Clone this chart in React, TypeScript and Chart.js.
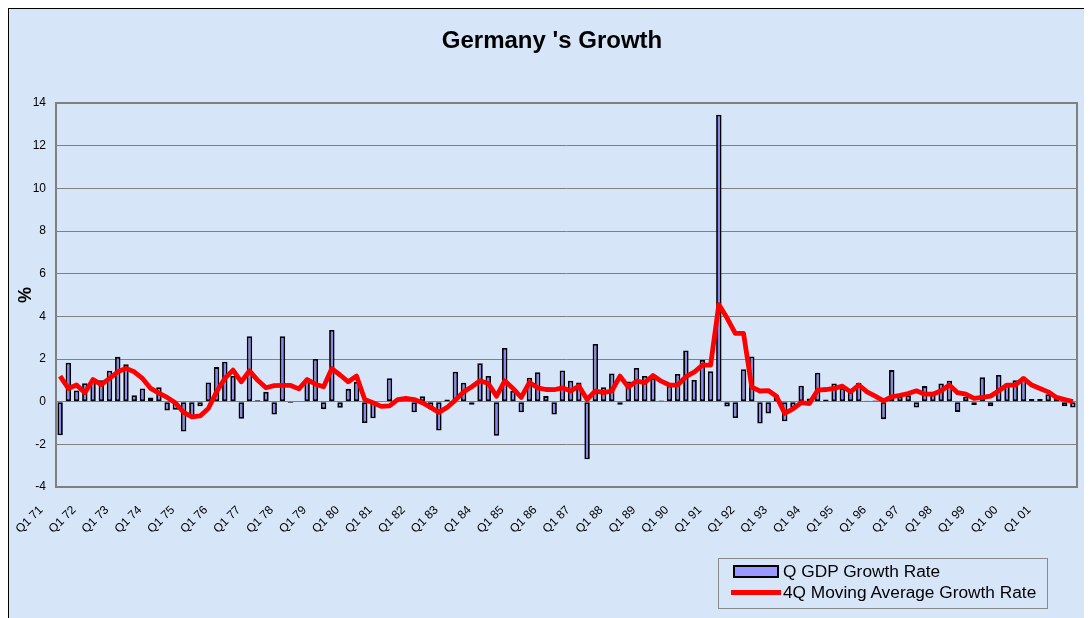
import React, { useEffect, useRef } from "react";
import { Chart, registerables } from "chart.js";

Chart.register(...registerables);

const years = ["71","72","73","74","75","76","77","78","79","80","81","82","83","84","85","86","87","88","89","90","91","92","93","94","95","96","97","98","99","00","01"];
const quarters = ["Q1", "Q2", "Q3", "Q4"];
const categories: string[] = [];
years.forEach((y) => quarters.forEach((q) => categories.push(`${q} ${y}`)));

const gdpGrowth = [
  -1.58, 1.83, 0.52, 0.86, 1.05, 1.0, 1.45, 2.1, 1.75, 0.3, 0.62, 0.2, 0.68, -0.41, -0.38, -1.4,
  -0.75, -0.22, 0.9, 1.62, 1.87, 1.2, -0.8, 3.07, 0.07, 0.46, -0.6, 3.07, -0.06, 0.0, 1.09, 2.0,
  -0.35, 3.36, -0.29, 0.6, 0.93, -1.0, -0.78, 0.0, 1.1, 0.1, 0.15, -0.5, 0.25, -0.35, -1.35, 0.1,
  1.4, 0.89, -0.15, 1.8, 1.2, -1.6, 2.52, 0.5, -0.5, 1.12, 1.38, 0.26, -0.6, 1.46, 0.98, 0.9,
  -2.7, 2.7, 0.67, 1.32, -0.14, 0.95, 1.58, 1.2, 1.1, 0.05, 0.75, 1.3, 2.4, 1.02, 1.95, 1.42,
  13.45, -0.23, -0.77, 1.52, 2.12, -1.02, -0.55, 0.3, -0.92, -0.28, 0.75, 0.15, 1.36, 0.1, 0.85, 0.62,
  0.46, 0.89, 0.04, 0.05, -0.82, 1.48, 0.23, 0.3, -0.27, 0.73, 0.46, 0.85, 0.98, -0.48, 0.23, -0.16,
  1.14, -0.21, 1.25, 0.85, 1.0, 1.17, 0.13, 0.13, 0.35, 0.2, -0.21, -0.27,
];

const movingAverage = [
  1.2, 0.62, 0.78, 0.42, 1.04, 0.8, 1.09, 1.4, 1.56, 1.4, 1.09, 0.62, 0.4, 0.2, -0.05, -0.5,
  -0.71, -0.67, -0.32, 0.46, 1.09, 1.48, 0.93, 1.45, 1.0, 0.65, 0.75, 0.76, 0.76, 0.6, 1.04, 0.82,
  0.7, 1.55, 1.25, 0.93, 1.2, 0.1, -0.05, -0.22, -0.2, 0.1, 0.15, 0.1, -0.05, -0.27, -0.5, -0.27,
  0.07, 0.46, 0.7, 0.98, 0.85, 0.26, 0.98, 0.62, 0.2, 0.9, 0.65, 0.57, 0.56, 0.65, 0.5, 0.73,
  0.1, 0.5, 0.42, 0.5, 1.2, 0.68, 0.96, 0.89, 1.23, 0.96, 0.78, 0.78, 1.17, 1.38, 1.71, 1.71,
  4.55, 3.92, 3.2, 3.2, 0.68, 0.5, 0.52, 0.25, -0.55, -0.34, -0.05, -0.09, 0.54, 0.57, 0.62, 0.73,
  0.46, 0.78, 0.46, 0.26, 0.04, 0.23, 0.3, 0.38, 0.51, 0.35, 0.35, 0.51, 0.78, 0.42, 0.35, 0.15,
  0.2, 0.26, 0.51, 0.78, 0.78, 1.09, 0.78, 0.62, 0.46, 0.2, 0.1, 0.0,
];

const yMin = -4;
const yMax = 14;
const yStep = 2;

const FONT = "Arial, 'Liberation Sans', Helvetica, sans-serif";

const framePlugin = {
  id: "plotFrame",
  beforeDatasetsDraw(chart: any) {
    const { ctx, chartArea } = chart;
    ctx.save();
    ctx.strokeStyle = "#808080";
    ctx.lineWidth = 2;
    ctx.strokeRect(chartArea.left, chartArea.top, chartArea.right - chartArea.left, chartArea.bottom - chartArea.top);
    ctx.restore();
  },
};

export default function App() {
  const canvasRef = useRef<HTMLCanvasElement | null>(null);

  useEffect(() => {
    if (!canvasRef.current) return;
    const chart = new Chart(canvasRef.current, {
      type: "bar",
      data: {
        labels: categories,
        datasets: [
          {
            type: "line",
            label: "4Q Moving Average Growth Rate",
            data: movingAverage,
            borderColor: "#ff0000",
            backgroundColor: "#ff0000",
            borderWidth: 4.8,
            pointRadius: 0,
            tension: 0,
            order: 0,
            borderJoinStyle: "round",
          } as any,
          {
            type: "bar",
            label: "Q GDP Growth Rate",
            data: gdpGrowth,
            backgroundColor: "#8585ee",
            borderColor: "#000000",
            borderWidth: 1.8,
            borderSkipped: false,
            barPercentage: 0.66,
            categoryPercentage: 1,
            order: 1,
          } as any,
        ],
      },
      options: {
        animation: false,
        responsive: false,
        maintainAspectRatio: false,
        layout: { padding: { left: 0, right: 15, top: 94, bottom: 0 } },
        plugins: {
          legend: { display: false },
          tooltip: { enabled: false },
          title: { display: false },
        },
        scales: {
          x: {
            offset: true,
            grid: { display: false, drawTicks: false },
            border: { display: false },
            ticks: {
              autoSkip: false,
              maxRotation: 45,
              minRotation: 45,
              padding: 16,
              labelOffset: -19,
              color: "#000",
              font: { family: FONT, size: 12 },
              callback: (_v: any, i: number) => (i % 4 === 0 ? categories[i] : ""),
            },
            afterFit: (s: any) => {
              s.height = 131;
              s.paddingLeft = 0;
              s.paddingRight = 0;
            },
          },
          y: {
            min: yMin,
            max: yMax,
            ticks: {
              stepSize: yStep,
              padding: 10,
              color: "#000",
              font: { family: FONT, size: 12 },
            },
            grid: { color: "#808080", lineWidth: 1, drawTicks: false },
            border: { display: false },
            title: {
              display: true,
              text: "%",
              color: "#000",
              font: { family: FONT, size: 18, weight: "bold" },
              padding: { top: 6, bottom: 0 },
            },
            afterFit: (s: any) => {
              s.width = 47;
              s.paddingTop = 0;
              s.paddingBottom = 0;
            },
          },
        },
      },
      plugins: [framePlugin],
    });
    return () => chart.destroy();
  }, []);

  return (
    <div
      style={{
        position: "relative",
        width: 1083,
        height: 609,
        borderLeft: "1px solid #000",
        borderTop: "1px solid #000",
        background: "#d6e6f8",
        fontFamily: FONT,
        overflow: "hidden",
      }}
    >
      <canvas ref={canvasRef} width={1083} height={609} style={{ display: "block" }} />
      <div
        style={{
          position: "absolute",
          left: 0,
          top: 17,
          width: 1086,
          textAlign: "center",
          fontSize: 24,
          fontWeight: "bold",
          lineHeight: "28.8px",
          color: "#000",
          whiteSpace: "nowrap",
        }}
      >
        Germany 's Growth
      </div>
      <div
        style={{
          position: "absolute",
          left: 709,
          top: 549,
          width: 328,
          height: 47,
          border: "1px solid #8a8a8a",
          fontSize: 17.3,
          color: "#000",
          paddingTop: 2,
          boxSizing: "content-box",
        }}
      >
        <div style={{ display: "flex", alignItems: "center", height: 21 }}>
          <span
            style={{
              display: "inline-block",
              width: 42,
              height: 9,
              background: "#9999ff",
              border: "2px solid #000",
              marginLeft: 14,
              marginRight: 4,
            }}
          />
          <span style={{ whiteSpace: "nowrap" }}>Q GDP Growth Rate</span>
        </div>
        <div style={{ display: "flex", alignItems: "center", height: 21 }}>
          <span
            style={{
              display: "inline-block",
              width: 50,
              height: 5,
              background: "#ff0000",
              marginLeft: 12,
              marginRight: 2,
            }}
          />
          <span style={{ whiteSpace: "nowrap" }}>4Q Moving Average Growth Rate</span>
        </div>
      </div>
    </div>
  );
}
